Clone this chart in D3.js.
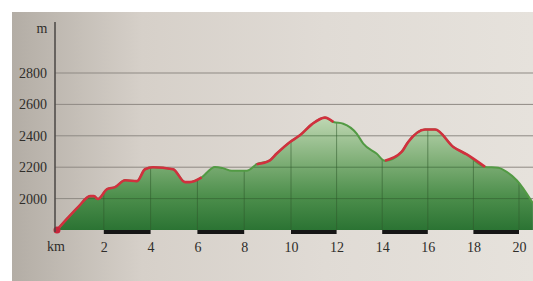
<html>
<meta charset="utf-8">
<body style="margin:0;background:#fff">
<script src="https://d3js.org/d3.v7.min.js"></script>
<div id="chart"></div>
<script>
    // profile: distance (km) and altitude (m)
    var km  = [0, 0.45, 0.94, 1.41, 1.58, 1.75, 2.14, 2.48, 2.91, 3.42, 3.76, 4.10, 4.96, 5.47, 5.68,
               6.18, 6.75, 7.09, 7.47, 8.11, 8.53, 9.10, 9.39, 9.96, 10.39, 10.91, 11.49, 11.86,
               12.29, 12.88, 13.17, 13.75, 14.12, 14.85, 15.14, 15.88, 16.32, 17.12, 17.71, 18.51,
               19.09, 19.46, 19.90, 20.61]
    var alt = [1800, 1875, 1952, 2016, 2016, 1997, 2060, 2073, 2117, 2111, 2187, 2200, 2187, 2105, 2105,
               2135, 2202, 2194, 2177, 2177, 2219, 2244, 2287, 2361, 2403, 2473, 2516, 2488,
               2477, 2414, 2350, 2287, 2241, 2297, 2361, 2440, 2440, 2329, 2281, 2202,
               2196, 2170, 2117, 1970]
    // stretches drawn in red (km from, km to)
    var redStretches = [[0, 6.18], [8.53, 11.86], [14.12, 18.51]]
    // black bars on the baseline
    var barStretches = [[2, 4], [6, 8], [10, 12], [14, 16], [18, 20]]
    var yTicks = [2000, 2200, 2400, 2600, 2800]
    var xTicks = [2, 4, 6, 8, 10, 12, 14, 16, 18, 20]

    var W = 533, H = 281
    var data = km.map(function(d, i) { return {km: d, alt: alt[i]} })

    var svg = d3.select("#chart").append("svg")
        .attr("width", W).attr("height", H)
        .style("display", "block")

    var defs = svg.append("defs")
    var bg = defs.append("linearGradient").attr("id", "bg")
    bg.append("stop").attr("offset", "0%").attr("stop-color", "#b3ada5")
    bg.append("stop").attr("offset", "25%").attr("stop-color", "#d6d0c9")
    bg.append("stop").attr("offset", "60%").attr("stop-color", "#e0dbd5")
    bg.append("stop").attr("offset", "100%").attr("stop-color", "#e6e2dc")

    // photo paper
    svg.append("rect").attr("x", 12).attr("y", 12)
        .attr("width", W - 12).attr("height", H - 12)
        .attr("fill", "url(#bg)")

    var x = d3.scaleLinear().domain([0, 10, 20]).range([57, 291, 519])
    var y = d3.scaleLinear().domain([1800, 2800]).range([230, 73])

    var grad = defs.append("linearGradient").attr("id", "green")
        .attr("gradientUnits", "userSpaceOnUse")
        .attr("x1", 0).attr("x2", 0).attr("y1", y(2520)).attr("y2", y(1800))
    grad.append("stop").attr("offset", "0%").attr("stop-color", "#c0d8b4")
    grad.append("stop").attr("offset", "40%").attr("stop-color", "#7eae76")
    grad.append("stop").attr("offset", "70%").attr("stop-color", "#4d8f4c")
    grad.append("stop").attr("offset", "100%").attr("stop-color", "#2b7333")

    var area = d3.area()
        .x(function(d) { return x(d.km) })
        .y0(y(1800))
        .y1(function(d) { return y(d.alt) })
        .curve(d3.curveMonotoneX)

    defs.append("clipPath").attr("id", "areaClip")
      .append("path").datum(data).attr("d", area)

    // horizontal grid
    svg.append("g").selectAll("line").data(yTicks).enter().append("line")
        .attr("x1", 55).attr("x2", W)
        .attr("y1", function(d) { return y(d) }).attr("y2", function(d) { return y(d) })
        .attr("stroke", "#8e8983").attr("stroke-width", 1)

    svg.append("path").datum(data)
        .attr("d", area)
        .attr("fill", "url(#green)")

    // grid lines seen through the green
    var inner = svg.append("g").attr("clip-path", "url(#areaClip)")
    inner.selectAll(".h").data(yTicks).enter().append("line")
        .attr("x1", 55).attr("x2", W)
        .attr("y1", function(d) { return y(d) }).attr("y2", function(d) { return y(d) })
        .attr("stroke", "#2f5a2c").attr("stroke-opacity", 0.55)
    inner.selectAll(".v").data(xTicks).enter().append("line")
        .attr("x1", function(d) { return x(d) }).attr("x2", function(d) { return x(d) })
        .attr("y1", y(1800)).attr("y2", y(2800))
        .attr("stroke", "#2f5a2c").attr("stroke-opacity", 0.55)

    var line = d3.line()
        .x(function(d) { return x(d.km) })
        .y(function(d) { return y(d.alt) })
        .curve(d3.curveMonotoneX)

    svg.append("path").datum(data)
        .attr("d", line)
        .attr("fill", "none")
        .attr("stroke", "#529a44")
        .attr("stroke-width", 2)

    redStretches.forEach(function(s) {
        var part = data.filter(function(d) { return d.km >= s[0] && d.km <= s[1] })
        svg.append("path").datum(part)
            .attr("d", line)
            .attr("fill", "none")
            .attr("stroke", "#d1303e")
            .attr("stroke-width", 2.6)
            .attr("stroke-linejoin", "round")
    })

    svg.append("circle")
        .attr("cx", x(km[0])).attr("cy", y(alt[0])).attr("r", 3.5)
        .attr("fill", "#c8253a")

    // baseline bars
    svg.append("g").selectAll("rect").data(barStretches).enter().append("rect")
        .attr("x", function(d) { return x(d[0]) })
        .attr("width", function(d) { return x(d[1]) - x(d[0]) })
        .attr("y", y(1800)).attr("height", 4)
        .attr("fill", "#161616")

    // y axis line
    svg.append("line")
        .attr("x1", 55).attr("x2", 55).attr("y1", 22).attr("y2", 232)
        .attr("stroke", "#4a4744").attr("stroke-width", 1.5)

    var font = "'Liberation Serif', 'DejaVu Serif', serif"

    var yAxis = svg.append("g")
        .attr("transform", "translate(55,0)")
        .call(d3.axisLeft(y).tickValues(yTicks).tickSize(0).tickPadding(8).tickFormat(d3.format("d")))
    yAxis.select(".domain").remove()
    yAxis.selectAll("text").style("font-family", font).style("font-size", "14px").attr("fill", "#2f2d2a")

    var xAxis = svg.append("g")
        .attr("transform", "translate(0,240)")
        .call(d3.axisBottom(x).tickValues(xTicks).tickSize(0).tickPadding(2))
    xAxis.select(".domain").remove()
    xAxis.selectAll("text").style("font-family", font).style("font-size", "14px").attr("fill", "#2f2d2a")

    svg.append("text").attr("x", 56).attr("y", 251)
        .attr("text-anchor", "middle")
        .style("font-family", font).style("font-size", "14px").attr("fill", "#2f2d2a")
        .text("km")
    svg.append("text").attr("x", 42).attr("y", 33)
        .attr("text-anchor", "middle")
        .style("font-family", font).style("font-size", "14px").attr("fill", "#2f2d2a")
        .text("m")
</script>
</body>
</html>
